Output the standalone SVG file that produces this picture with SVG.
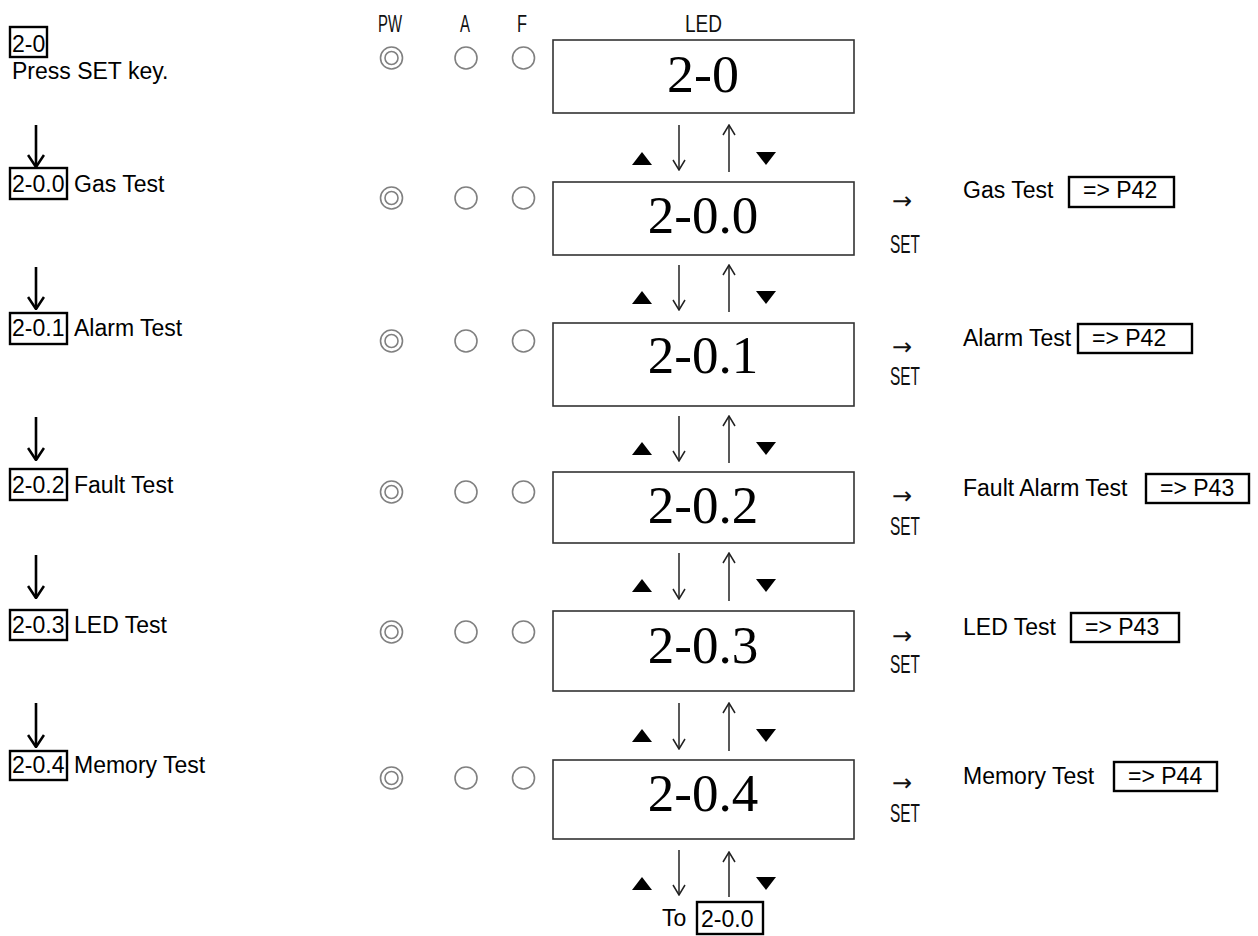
<svg xmlns="http://www.w3.org/2000/svg" width="1258" height="936" viewBox="0 0 1258 936">
<style>
.sans{font-family:"Liberation Sans",Arial,sans-serif;font-size:23px;fill:#000}
.led{font-family:"Liberation Serif","Times New Roman",serif;font-size:53px;fill:#000;text-anchor:middle}
.cond{font-family:"Liberation Sans",Arial,sans-serif;fill:#111}
.arr{font-family:"DejaVu Sans",sans-serif;font-size:24px;fill:#111}
.box{fill:#fff;stroke:#333;stroke-width:1.6}
.tag{fill:none;stroke:#000;stroke-width:2.4}
.ind{fill:none;stroke:#808080;stroke-width:1.6}
.thin{fill:none;stroke:#222;stroke-width:1.5}
.thick{fill:none;stroke:#000;stroke-width:2.6}
.tri{fill:#000}
</style>
<defs>
<marker id="hThin" viewBox="0 0 12 14" refX="11" refY="7" markerWidth="12" markerHeight="14" markerUnits="userSpaceOnUse" orient="auto">
<path d="M1,1 L11,7 L1,13" fill="none" stroke="#222" stroke-width="1.5"/>
</marker>
<marker id="hThick" viewBox="0 0 14 18" refX="13" refY="9" markerWidth="14" markerHeight="18" markerUnits="userSpaceOnUse" orient="auto">
<path d="M1,1 L13,9 L1,17" fill="none" stroke="#000" stroke-width="2.6"/>
</marker>
<g id="pw"><circle r="11" class="ind"/><circle r="6.5" class="ind"/></g>
<circle id="off" r="11" class="ind"/>
<polygon id="up" points="0,-7 10,6 -10,6" class="tri"/>
<polygon id="dn" points="-10,-7 10,-7 0,6" class="tri"/>
</defs>

<g id="header">
<text class="cond" x="378" y="32" font-size="23" textLength="24" lengthAdjust="spacingAndGlyphs">PW</text>
<text class="cond" x="460" y="32" font-size="23" textLength="10" lengthAdjust="spacingAndGlyphs">A</text>
<text class="cond" x="517" y="32" font-size="23" textLength="10" lengthAdjust="spacingAndGlyphs">F</text>
<text class="cond" x="685" y="32" font-size="23" textLength="37" lengthAdjust="spacingAndGlyphs">LED</text>
</g>

<g id="step-2-0">
<rect class="tag" x="10" y="27" width="37" height="30"/>
<text class="sans" x="12" y="52">2-0</text>
<text class="sans" x="12" y="79">Press SET key.</text>
<use href="#pw" x="391.5" y="58"/><use href="#off" x="466" y="58"/><use href="#off" x="523.5" y="58"/>
<rect class="box" x="553" y="40" width="301" height="73"/>
<text class="led" x="703" y="92" font-size="60" textLength="72" lengthAdjust="spacingAndGlyphs">2-0</text>
</g>

<g id="step-2-0-0">
<rect class="tag" x="10" y="168" width="57" height="31"/>
<text class="sans" x="12" y="192">2-0.0</text>
<text class="sans" x="74" y="192">Gas Test</text>
<use href="#pw" x="391.5" y="198"/><use href="#off" x="466" y="198"/><use href="#off" x="523.5" y="198"/>
<rect class="box" x="553" y="182" width="301" height="73"/>
<text class="led" x="703" y="233">2-0.0</text>
<text class="arr" x="892" y="209">→</text>
<text class="cond" x="890" y="253" font-size="26" textLength="30" lengthAdjust="spacingAndGlyphs">SET</text>
<text class="sans" x="963" y="198">Gas Test</text>
<rect class="tag" x="1069" y="177" width="105" height="30"/>
<text class="sans" x="1083" y="198">=&gt; P42</text>
</g>

<g id="step-2-0-1">
<rect class="tag" x="10" y="313" width="57" height="31"/>
<text class="sans" x="12" y="336">2-0.1</text>
<text class="sans" x="74" y="336">Alarm Test</text>
<use href="#pw" x="391.5" y="341"/><use href="#off" x="466" y="341"/><use href="#off" x="523.5" y="341"/>
<rect class="box" x="553" y="323" width="301" height="83"/>
<text class="led" x="703" y="373">2-0.1</text>
<text class="arr" x="892" y="355">→</text>
<text class="cond" x="890" y="385" font-size="26" textLength="30" lengthAdjust="spacingAndGlyphs">SET</text>
<text class="sans" x="963" y="346">Alarm Test</text>
<rect class="tag" x="1078" y="324" width="114" height="29"/>
<text class="sans" x="1092" y="346">=&gt; P42</text>
</g>

<g id="step-2-0-2">
<rect class="tag" x="10" y="469" width="57" height="31"/>
<text class="sans" x="12" y="493">2-0.2</text>
<text class="sans" x="74" y="493">Fault Test</text>
<use href="#pw" x="391.5" y="492"/><use href="#off" x="466" y="492"/><use href="#off" x="523.5" y="492"/>
<rect class="box" x="553" y="472" width="301" height="71"/>
<text class="led" x="703" y="523">2-0.2</text>
<text class="arr" x="892" y="504">→</text>
<text class="cond" x="890" y="535" font-size="26" textLength="30" lengthAdjust="spacingAndGlyphs">SET</text>
<text class="sans" x="963" y="496">Fault Alarm Test</text>
<rect class="tag" x="1146" y="474" width="103" height="29"/>
<text class="sans" x="1160" y="496">=&gt; P43</text>
</g>

<g id="step-2-0-3">
<rect class="tag" x="10" y="610" width="57" height="30"/>
<text class="sans" x="12" y="633">2-0.3</text>
<text class="sans" x="74" y="633">LED Test</text>
<use href="#pw" x="391.5" y="632"/><use href="#off" x="466" y="632"/><use href="#off" x="523.5" y="632"/>
<rect class="box" x="553" y="611" width="301" height="80"/>
<text class="led" x="703" y="663">2-0.3</text>
<text class="arr" x="892" y="644">→</text>
<text class="cond" x="890" y="673" font-size="26" textLength="30" lengthAdjust="spacingAndGlyphs">SET</text>
<text class="sans" x="963" y="635">LED Test</text>
<rect class="tag" x="1071" y="613" width="108" height="29"/>
<text class="sans" x="1085" y="635">=&gt; P43</text>
</g>

<g id="step-2-0-4">
<rect class="tag" x="10" y="751" width="57" height="29"/>
<text class="sans" x="12" y="773">2-0.4</text>
<text class="sans" x="74" y="773">Memory Test</text>
<use href="#pw" x="391.5" y="778"/><use href="#off" x="466" y="778"/><use href="#off" x="523.5" y="778"/>
<rect class="box" x="553" y="760" width="301" height="79"/>
<text class="led" x="703" y="811">2-0.4</text>
<text class="arr" x="892" y="791">→</text>
<text class="cond" x="890" y="822" font-size="26" textLength="30" lengthAdjust="spacingAndGlyphs">SET</text>
<text class="sans" x="963" y="784">Memory Test</text>
<rect class="tag" x="1114" y="762" width="103" height="29"/>
<text class="sans" x="1128" y="784">=&gt; P44</text>
</g>

<g id="loop-back">
<text class="sans" x="662" y="926" font-size="24">To</text>
<rect class="tag" x="697" y="902" width="66" height="32"/>
<text class="sans" x="701" y="927" font-size="24">2-0.0</text>
</g>

<g id="connectors">
<path class="thick" d="M36,125 V167" marker-end="url(#hThick)"/>
<path class="thick" d="M36,267 V309" marker-end="url(#hThick)"/>
<path class="thick" d="M36,417 V460" marker-end="url(#hThick)"/>
<path class="thick" d="M36,555 V598" marker-end="url(#hThick)"/>
<path class="thick" d="M36,703 V747" marker-end="url(#hThick)"/>

<path class="thin" d="M679,125 V170" marker-end="url(#hThin)"/>
<path class="thin" d="M729,172 V125" marker-end="url(#hThin)"/>
<use href="#up" x="642" y="159"/><use href="#dn" x="766" y="159"/>

<path class="thin" d="M679,265 V310" marker-end="url(#hThin)"/>
<path class="thin" d="M729,312 V265" marker-end="url(#hThin)"/>
<use href="#up" x="642" y="298"/><use href="#dn" x="766" y="298"/>

<path class="thin" d="M679,416 V461" marker-end="url(#hThin)"/>
<path class="thin" d="M729,463 V416" marker-end="url(#hThin)"/>
<use href="#up" x="642" y="449"/><use href="#dn" x="766" y="449"/>

<path class="thin" d="M679,553 V599" marker-end="url(#hThin)"/>
<path class="thin" d="M729,601 V553" marker-end="url(#hThin)"/>
<use href="#up" x="642" y="586"/><use href="#dn" x="766" y="586"/>

<path class="thin" d="M679,703 V749" marker-end="url(#hThin)"/>
<path class="thin" d="M729,751 V703" marker-end="url(#hThin)"/>
<use href="#up" x="642" y="736"/><use href="#dn" x="766" y="736"/>

<path class="thin" d="M679,850 V895" marker-end="url(#hThin)"/>
<path class="thin" d="M729,897 V852" marker-end="url(#hThin)"/>
<use href="#up" x="642" y="884"/><use href="#dn" x="766" y="884"/>
</g>
</svg>
